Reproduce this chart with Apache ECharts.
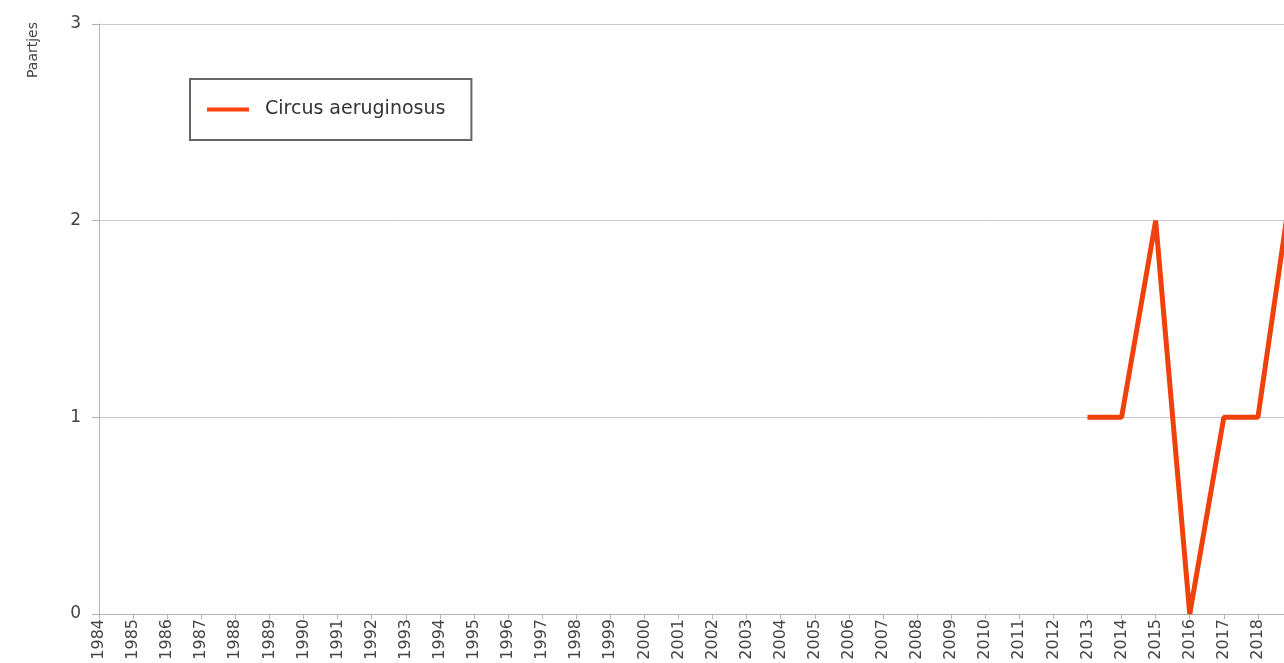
<!DOCTYPE html>
<html>
<head>
<meta charset="utf-8">
<script src="https://cdn.jsdelivr.net/npm/echarts@6/dist/echarts.min.js"></script>
<style>
  html, body { margin: 0; padding: 0; background: #fff; }
  #chart { width: 1284px; height: 663px; }
</style>
</head>
<body>
<div id="chart"></div>
<script>
// jaren op de x-as
var years = []
for (var y = 1984; y <= 2019; y++) years.push(String(y))

// waarden per jaar (alleen vanaf 2013 bekend)
var seriesName = 'Circus aeruginosus'
var pairs = [
  null, null, null, null, null, null, null, null, null, null,
  null, null, null, null, null, null, null, null, null, null,
  null, null, null, null, null, null, null, null, null,
  1, 1, 2, 0, 1, 1, 2.2
]

var yTicks = [0, 1, 2, 3]

var chart = echarts.init(document.getElementById('chart'))
chart.setOption({
  animation: false,
  backgroundColor: '#fff',
  grid: {
    left: 99,
    top: 24,
    width: 1193,
    height: 590,
    outerBoundsMode: 'none',
    containLabel: false
  },
  graphic: [
    {
      type: 'text',
      x: 33,
      y: 50,
      rotation: Math.PI / 2,
      style: {
        text: 'Paartjes',
        font: '14px "DejaVu Sans", sans-serif',
        fill: '#444',
        align: 'center',
        verticalAlign: 'middle'
      }
    }
  ],
  legend: {
    left: 190,
    top: 79,
    padding: [21, 26, 21, 17],
    borderColor: '#666',
    borderWidth: 2,
    backgroundColor: '#fff',
    itemWidth: 42,
    itemHeight: 4,
    icon: 'rect',
    textStyle: {
      fontFamily: '"DejaVu Sans", sans-serif',
      fontSize: 19,
      color: '#333',
      padding: [0, 0, 0, 11]
    },
    data: [seriesName]
  },
  xAxis: {
    type: 'category',
    data: years,
    boundaryGap: false,
    axisLine: { lineStyle: { color: '#b3b3b3', width: 1 } },
    axisTick: { show: true, length: 5, lineStyle: { color: '#b3b3b3' } },
    axisLabel: {
      rotate: 90,
      interval: 0,
      margin: 5,
      showMaxLabel: true,
      fontFamily: '"DejaVu Sans", sans-serif',
      fontSize: 16,
      color: '#444'
    },
    splitLine: { show: false }
  },
  yAxis: {
    type: 'value',
    min: yTicks[0],
    max: yTicks[yTicks.length - 1],
    interval: 1,
    axisLine: { show: true, lineStyle: { color: '#b3b3b3', width: 1 } },
    axisTick: { show: true, length: 7, lineStyle: { color: '#b3b3b3' } },
    axisLabel: {
      margin: 18,
      fontFamily: '"DejaVu Sans", sans-serif',
      fontSize: 17,
      color: '#444'
    },
    splitLine: { show: true, lineStyle: { color: '#c8c8c8', width: 1 } }
  },
  series: [
    {
      name: seriesName,
      type: 'line',
      data: pairs,
      color: '#ff420e',
      showSymbol: false,
      symbol: 'none',
      connectNulls: false,
      lineStyle: { width: 5, color: '#f0400c' }
    }
  ]
})
</script>
</body>
</html>
